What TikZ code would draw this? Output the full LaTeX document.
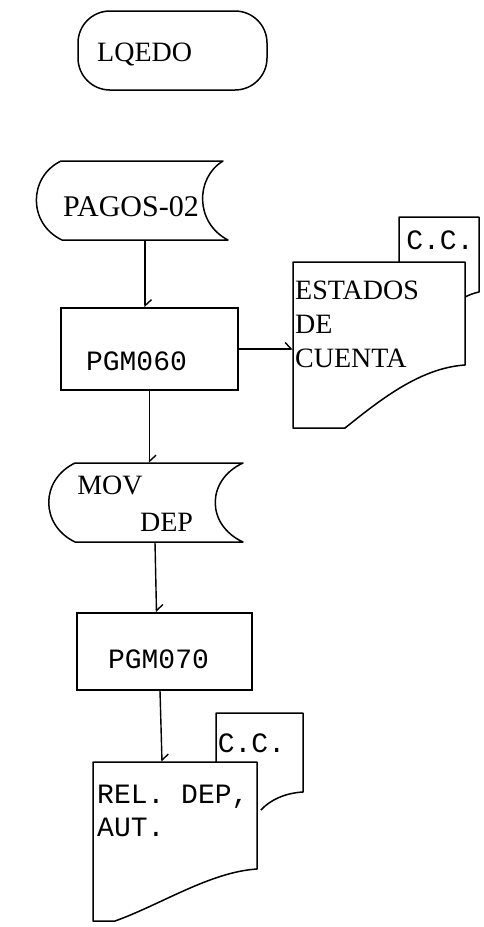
\documentclass[tikz,border=0pt]{standalone}
\usepackage{fontspec}
\setmainfont{Liberation Serif}
\setmonofont{Liberation Mono}
\usetikzlibrary{arrows.meta, calc}

\begin{document}
\begin{tikzpicture}[x=1pt, y=1pt,
    every node/.style={inner sep=0pt},
    outline/.style={line width=1.5pt, line join=round},
    flow/.style={line width=1.4pt, -{Straight Barb[left, length=6pt, width=13pt]}},
    proc/.style={draw, line width=1.5pt},
    serif/.style={font=\fontsize{28}{34}\selectfont, align=left},
    mono/.style={font=\fontsize{28}{33}\selectfont\ttfamily, align=left}
]

\useasboundingbox (0,0) rectangle (483,-927);

% terminal
\node[draw, line width=1.5pt, rounded corners=32pt, minimum width=189pt, minimum height=79pt] (lqedo) at (172.5,-50.5) {};
\node[serif, anchor=west] (lqedo-t) at (97,-54) {LQEDO};

% PAGOS-02
\node[minimum width=193pt, minimum height=79pt] (pagos) at (131.5,-200.5) {};
\draw[outline] (61,-161) -- (223,-161) .. controls (195,-178) and (195,-223) .. (228,-240)
    -- (62,-240) .. controls (28,-224) and (28,-177) .. cycle;
\node[serif, font=\fontsize{30}{34}\selectfont] (pagos-t) at (131,-207) {PAGOS-02};

% PGM060
\node[proc, minimum width=177pt, minimum height=82pt] (pgm060) at (149.5,-349) {};
\node[mono] (pgm060-t) at (136.5,-361) {PGM060};

% ESTADOS DE CUENTA + C.C.
\node[minimum width=172pt, minimum height=166pt] (estados) at (379,-345) {};
\draw[outline, fill=white] (399,-262) -- (399,-217) -- (479,-217) -- (479,-292)
    .. controls (474,-293) and (469,-295) .. (465,-297);
\node[mono] (cc1) at (440,-240) {C.C.};
\draw[outline, fill=white] (293,-262) -- (465,-262) -- (465,-365)
    .. controls (420,-368) and (380,-400) .. (345,-428) -- (293,-428) -- cycle;
\node[serif, anchor=north west] (estados-t) at (295,-281) {ESTADOS\\DE\\CUENTA};

% MOV DEP
\node[minimum width=194pt, minimum height=79pt] (movdep) at (146,-502.5) {};
\draw[outline] (75,-463) -- (243,-463) .. controls (206,-480) and (206,-525) .. (243,-542)
    -- (75,-542) .. controls (40,-525) and (40,-480) .. cycle;
\node[serif] (mov-t) at (110,-485) {MOV};
\node[serif] (dep-t) at (166.5,-522) {DEP};

% PGM070
\node[proc, minimum width=175pt, minimum height=77pt] (pgm070) at (164.5,-651.5) {};
\node[mono] (pgm070-t) at (158.5,-659) {PGM070};

% REL. DEP. AUT. + C.C.
\node[minimum width=164pt, minimum height=159pt] (rel) at (175,-841.5) {};
\draw[outline, fill=white] (216,-762) -- (216,-713) -- (303,-713) -- (303,-792)
    .. controls (285,-793) and (270,-800) .. (261,-810);
\node[mono] (cc2) at (251.5,-743) {C.C.};
\draw[outline, fill=white] (93,-762) -- (257,-762) -- (257,-869)
    .. controls (210,-872) and (160,-905) .. (115,-921) -- (93,-921) -- cycle;
\node[mono, anchor=north west] (rel-t) at (97,-785) {REL. DEP,\\AUT.};

% flow lines
\draw[flow] ($(pagos.south)+(13.5,0)$) -- ($(pgm060.north)+(-4.5,0)$);
\draw[flow] (pgm060.east) -- (estados.west |- pgm060.east);
\draw[flow] (pgm060.south) -- (pgm060.south |- movdep.north);
\draw[flow] ($(movdep.south)+(9,0)$) -- ($(pgm070.north)+(-8,0)$);
\draw[flow] ($(pgm070.south)+(-4.5,0)$) -- ($(rel.north)+(-13,0)$);

\end{tikzpicture}
\end{document}
